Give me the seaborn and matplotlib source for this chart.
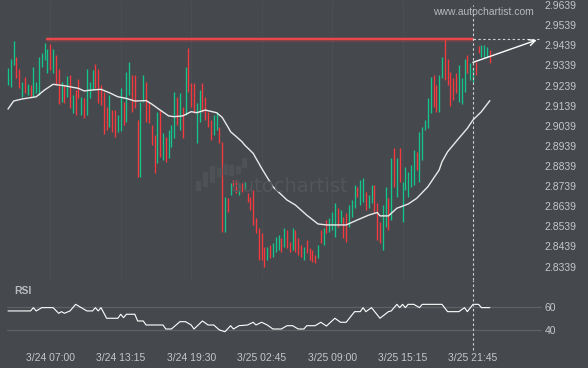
import matplotlib
matplotlib.use("Agg")
import matplotlib.pyplot as plt
import seaborn as sns
import pandas as pd
from matplotlib.patches import Rectangle

# ---------------- data ----------------
highs = [2.9324, 2.9369, 2.9460, 2.9382, 2.9320, 2.9258, 2.9283, 2.9245, 2.9242, 2.9329,
         2.9256, 2.9382, 2.9399, 2.9449, 2.9419, 2.9445, 2.9420, 2.9391, 2.9320, 2.9258,
         2.9242, 2.9286, 2.9291, 2.9192, 2.9217, 2.9271, 2.9183, 2.9177, 2.9321, 2.9258,
         2.9316, 2.9346, 2.9321, 2.9242, 2.9208, 2.9134, 2.9192, 2.9117, 2.9117, 2.9093,
         2.9227, 2.9159, 2.9308, 2.9357, 2.9291, 2.9291, 2.9068, 2.9159, 2.9291, 2.9258,
         2.9159, 2.9043, 2.8993, 2.9109, 2.9117, 2.9003, 2.8985, 2.9018, 2.9043, 2.9208,
         2.9183, 2.9200, 2.9134, 2.9333, 2.9424, 2.9250, 2.9250, 2.9151, 2.9217, 2.9250,
         2.9183, 2.9109, 2.9068, 2.9093, 2.9109, 2.9034, 2.8960, 2.8686, 2.8680, 2.8755,
         2.8769, 2.8769, 2.8755, 2.8755, 2.8761, 2.8705, 2.8686, 2.8720, 2.8581, 2.8531,
         2.8506, 2.8438, 2.8438, 2.8446, 2.8456, 2.8488, 2.8496, 2.8481, 2.8531, 2.8521,
         2.8463, 2.8531, 2.8521, 2.8481, 2.8446, 2.8438, 2.8471, 2.8431, 2.8421, 2.8397,
         2.8446, 2.8521, 2.8531, 2.8571, 2.8581, 2.8612, 2.8654, 2.8630, 2.8620, 2.8587,
         2.8605, 2.8645, 2.8670, 2.8745, 2.8736, 2.8769, 2.8779, 2.8711, 2.8695, 2.8745,
         2.8745, 2.8655, 2.8562, 2.8645, 2.8736, 2.8680, 2.8879, 2.8928, 2.8879, 2.8928,
         2.8761, 2.8836, 2.8811, 2.8844, 2.8919, 2.8910, 2.9009, 2.9034, 2.9068, 2.9177,
         2.9283, 2.9291, 2.9242, 2.9291, 2.9382, 2.9469, 2.9369, 2.9308, 2.9276, 2.9301,
         2.9341, 2.9275, 2.9369, 2.9391, 2.9349, 2.9326, 2.9357, 2.9437, 2.9440, 2.9440,
         2.9432, 2.9416]
lows = [2.9242, 2.9233, 2.9341, 2.9275, 2.9225, 2.9183, 2.9200, 2.9192, 2.9183, 2.9183,
        2.9202, 2.9192, 2.9332, 2.9366, 2.9300, 2.9316, 2.9301, 2.9242, 2.9147, 2.9159,
        2.9152, 2.9183, 2.9127, 2.9102, 2.9093, 2.9177, 2.9093, 2.9078, 2.9093, 2.9177,
        2.9217, 2.9227, 2.9152, 2.9142, 2.8998, 2.9018, 2.9034, 2.9009, 2.8985, 2.9009,
        2.9013, 2.9043, 2.9059, 2.9192, 2.9109, 2.9127, 2.8786, 2.8786, 2.9159, 2.9059,
        2.9051, 2.8943, 2.8803, 2.8852, 2.8885, 2.8869, 2.8860, 2.8877, 2.8935, 2.8977,
        2.9043, 2.9018, 2.8977, 2.9093, 2.9208, 2.9134, 2.9101, 2.8952, 2.9059, 2.9109,
        2.9068, 2.9034, 2.8968, 2.8993, 2.9018, 2.8952, 2.8512, 2.8512, 2.8612, 2.8695,
        2.8720, 2.8705, 2.8695, 2.8710, 2.8720, 2.8662, 2.8620, 2.8546, 2.8506, 2.8372,
        2.8372, 2.8339, 2.8372, 2.8382, 2.8388, 2.8413, 2.8421, 2.8413, 2.8438, 2.8430,
        2.8413, 2.8421, 2.8413, 2.8397, 2.8388, 2.8372, 2.8405, 2.8372, 2.8363, 2.8355,
        2.8382, 2.8455, 2.8446, 2.8506, 2.8512, 2.8521, 2.8488, 2.8537, 2.8556, 2.8481,
        2.8463, 2.8537, 2.8587, 2.8629, 2.8686, 2.8645, 2.8661, 2.8620, 2.8630, 2.8654,
        2.8612, 2.8471, 2.8455, 2.8421, 2.8537, 2.8521, 2.8571, 2.8736, 2.8686, 2.8761,
        2.8562, 2.8720, 2.8686, 2.8736, 2.8745, 2.8819, 2.8761, 2.8869, 2.9018, 2.9028,
        2.9101, 2.9134, 2.9109, 2.9109, 2.9275, 2.9266, 2.9242, 2.9137, 2.9167, 2.9200,
        2.9159, 2.9147, 2.9208, 2.9300, 2.9266, 2.9258, 2.9291, 2.9399, 2.9382, 2.9382,
        2.9382, 2.9351]
directions = ("GGGRRGRGRG" "GGGGGRGRRG" "RGRGRRGRGG" "GRRRRRGRRG" "GRGGRRRGGR"
              "RRRGRGRGGG" "RGRGRRRGGR" "RRRGGRRGRG" "RRGRGRRRRR" "RRGRGGGRGR"
              "RGRRRGRRRR" "GRGRGGGRGR" "RGGGRGGRGG" "RRRGGRGRGR" "GGGGGRGGGG"
              "GRRGGRRRRR" "GGGRGGRRGG" "GR")

ma_bars = [0, 2, 5, 10, 13, 16, 20, 23, 25, 27, 30, 33, 36, 39, 42, 45, 49, 51, 54, 57,
           59, 62, 65, 67, 70, 74, 76, 78, 79, 81, 83, 84, 87, 90, 94, 99, 102, 106, 110,
           113, 117, 120, 124, 128, 131, 132, 135, 138, 142, 145, 149, 153, 154, 156, 160,
           163, 165, 168, 171]
ma_vals = [2.9122, 2.9162, 2.9172, 2.9183, 2.9217, 2.9245, 2.9238, 2.9230, 2.9225, 2.9212,
           2.9217, 2.9220, 2.9203, 2.9183, 2.9175, 2.9162, 2.9164, 2.9147, 2.9117, 2.9088,
           2.9084, 2.9088, 2.9109, 2.9104, 2.9117, 2.9104, 2.9081, 2.9034, 2.9009, 2.8985,
           2.8960, 2.8943, 2.8902, 2.8828, 2.8736, 2.8670, 2.8645, 2.8595, 2.8551,
           2.8546, 2.8546, 2.8546, 2.8571, 2.8595, 2.8608, 2.8591, 2.8591, 2.8629, 2.8650,
           2.8678, 2.8736, 2.8819, 2.8860, 2.8910, 2.8977, 2.9026, 2.9068, 2.9109, 2.9164]

rsi_bars = [0, 8, 9, 10, 12, 16, 18, 19, 20, 22, 24, 26, 28, 30, 31, 32, 33, 35, 39, 40,
            41, 42, 45, 46, 48, 49, 55, 56, 58, 61, 63, 65, 66, 69, 71, 73, 75, 77, 79, 80,
            82, 85, 87, 88, 90, 92, 94, 97, 99, 101, 103, 105, 106, 109, 111, 113, 116, 118,
            120, 123, 125, 126, 127, 129, 132, 135, 136, 137, 138, 139, 140, 141, 142, 144,
            146, 147, 154, 156, 160, 162, 163, 165, 167, 168, 171]
rsi_vals = [56.4, 56.4, 59.2, 56.4, 59.2, 59.2, 54.4, 55.8, 54.4, 56.4, 62.0, 59.2, 56.4,
            56.4, 59.2, 56.4, 59.2, 50.2, 50.2, 53.6, 50.7, 53.6, 53.6, 47.9, 47.9, 44.5,
            44.5, 41.1, 41.1, 47.3, 47.3, 44.5, 41.1, 47.9, 44.5, 44.5, 40.3, 38.8, 43.9,
            41.1, 43.9, 44.5, 46.8, 44.5, 46.8, 44.5, 41.1, 41.1, 43.9, 43.9, 41.1, 41.1,
            43.9, 43.9, 46.8, 43.6, 50.2, 46.8, 46.8, 55.8, 55.8, 59.2, 55.8, 59.2, 50.2,
            55.8, 56.4, 59.2, 62.0, 59.2, 62.0, 59.2, 62.0, 62.0, 59.2, 62.0, 62.0, 55.8,
            55.8, 59.2, 55.8, 62.0, 62.0, 59.2, 59.2]

time_bars = [15, 40, 65, 90, 115, 140, 165]
time_labels = ["3/24 07:00", "3/24 13:15", "3/24 19:30", "3/25 02:45",
               "3/25 09:00", "3/25 15:15", "3/25 21:45"]
price_ticks = [2.9639, 2.9539, 2.9439, 2.9339, 2.9239, 2.9139, 2.9039,
               2.8939, 2.8839, 2.8739, 2.8639, 2.8539, 2.8439, 2.8339]
rsi_ticks = [60, 40]

resistance = 2.9469
res_start_bar = 13.4
event_bar = 165
arrow_start_price = 2.9354
arrow_end_bar = 187.6
arrow_end_price = 2.9465

# ---------------- style ----------------
BG = "#45494e"
TXT = "#c3c6ca"
GREEN = "#14c58a"
RED = "#f5393c"
sns.set_theme(style="dark")
plt.rcParams["font.family"] = ["Liberation Sans", "DejaVu Sans"]

W, H = 588, 368
fig = plt.figure(figsize=(W / 100, H / 100), dpi=100, facecolor=BG)


def px_box(x0, y0, x1, y1):
    return [x0 / W, 1 - y1 / H, (x1 - x0) / W, (y1 - y0) / H]


BAR_PX, X0_PX = 2.818, 8.0
AX_RIGHT = 542
xlim = (-X0_PX / BAR_PX, (AX_RIGHT - X0_PX) / BAR_PX)

ax = fig.add_axes(px_box(0, 0, AX_RIGHT, 280))
axr = fig.add_axes(px_box(0, 280, AX_RIGHT, 352), sharex=ax)
for a in (ax, axr):
    a.set_facecolor(BG)
    for s in a.spines.values():
        s.set_visible(False)

ax.set_xlim(*xlim)
ax.set_ylim(2.9664 - 0.000497 * 280, 2.9664)
axr.set_ylim(60 - (352 - 306.7) / 1.18, 60 + (306.7 - 280) / 1.18)

# faint vertical grid in price panel
for b in time_bars:
    ax.axvline(b, color="#4a4e53", lw=0.8, zorder=0)

# watermark
fig.text(290 / W, 1 - 186 / H, "autochartist", color="#52565b", fontsize=14,
         family="DejaVu Sans", ha="center", va="center", zorder=0)
logo = [(196, 181, 190), (203, 172, 186), (210, 166, 182), (217, 168, 176),
        (223, 164, 174), (229, 165, 175), (236, 166, 173), (242, 158, 167)]
for lx, ly0, ly1 in logo:
    fig.patches.append(Rectangle((lx / W, 1 - ly1 / H), 4 / W, (ly1 - ly0) / H,
                                 transform=fig.transFigure, color="#4e5257", zorder=0))

# candles
df = pd.DataFrame({"bar": range(len(highs)), "high": highs, "low": lows,
                   "dir": list(directions)})
for d, col in (("G", GREEN), ("R", RED)):
    sub = df[df["dir"] == d]
    ax.vlines(sub["bar"], sub["low"], sub["high"], color=col, lw=0.95, zorder=3)

# moving average
sns.lineplot(x=ma_bars, y=ma_vals, ax=ax, color="#e9e9e9", lw=1.0,
             estimator=None, sort=False, zorder=4)

# resistance line
ax.hlines(resistance, res_start_bar, event_bar, color=RED, lw=3.4, alpha=0.3, zorder=5)
ax.hlines(resistance, res_start_bar, event_bar, color="#e8484c", lw=1.5, zorder=5)
ax.hlines(resistance, event_bar, xlim[1], color="#cfd2d6", lw=0.8,
          linestyles=(0, (2.2, 2.2)), zorder=5)

# event line (dashed vertical)
ax.axvline(event_bar, ymax=(280 - 5) / 280, color="#cfd2d6", lw=0.8,
           ls=(0, (2.2, 2.2)), zorder=5)
axr.axvline(event_bar, ymin=2 / 72, color="#cfd2d6", lw=0.8, ls=(0, (2.2, 2.2)), zorder=5)

# forecast arrow
ax.annotate("", xy=(arrow_end_bar, arrow_end_price), xytext=(event_bar, arrow_start_price),
            arrowprops=dict(arrowstyle="->", color="white", lw=1.0, mutation_scale=11,
                            shrinkA=0, shrinkB=0), zorder=6)

# price axis
ax.yaxis.tick_right()
ax.set_yticks(price_ticks)
ax.set_yticklabels([f"{p:.4f}" for p in price_ticks])
ax.tick_params(axis="y", length=0, pad=2, labelsize=7.5, labelcolor=TXT)
ax.tick_params(axis="x", length=0, labelbottom=False)
ax.set_xlabel("")
ax.set_ylabel("")
ax.grid(False)

# RSI panel
for lvl in rsi_ticks:
    axr.axhline(lvl, xmin=7 / AX_RIGHT, xmax=1, color="#5d6166", lw=0.9, zorder=1)
sns.lineplot(x=rsi_bars, y=rsi_vals, ax=axr, color="white", lw=0.8,
             estimator=None, sort=False, zorder=4)
axr.yaxis.tick_right()
axr.set_yticks(rsi_ticks)
axr.set_yticklabels([str(v) for v in rsi_ticks])
axr.tick_params(axis="y", length=0, pad=2, labelsize=7.5, labelcolor=TXT)
axr.set_xticks(time_bars)
axr.set_xticklabels(time_labels)
axr.tick_params(axis="x", length=0, pad=1, labelsize=7.5, labelcolor=TXT)
axr.set_xlabel("")
axr.set_ylabel("")
axr.grid(False)
ax.set_xlim(*xlim)

fig.text(14 / W, 1 - 291 / H, "RSI", color="#b7babe", fontsize=7.5, fontweight="bold",
         ha="left", va="center")
fig.text(483 / W, 1 - 12 / H, "www.autochartist.com", color="#b5b8bc", fontsize=7.5,
         ha="center", va="center")

fig.savefig("out.png", dpi=100, facecolor=BG)
